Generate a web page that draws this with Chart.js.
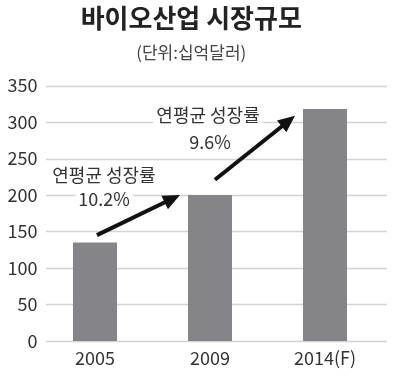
<!DOCTYPE html>
<html><head><meta charset="utf-8">
<script src="https://cdn.jsdelivr.net/npm/chart.js@4"></script>
<style>html,body{margin:0;padding:0;background:#fff}#wrap{width:400px;height:377px}</style>
</head><body><div id="wrap"><canvas id="c" width="400" height="377"></canvas></div>
<script>
const categories = ['2005', '2009', '2014(F)'];
const marketSize = [135, 200, 318];
const yTicks = [0, 50, 100, 150, 200, 250, 300, 350];
const titleText = '바이오산업 시장규모';
const subtitleText = '(단위:십억달러)';
const growthLabels = [['연평균 성장률', '10.2%'], ['연평균 성장률', '9.6%']];
// anchors in data units: [category index, value]
const labelAnchors = [[[0.078, 227], [0.078, 194]], [[0.983, 310], [1.0, 272.5]]];
const arrows = [[[0.017, 145], [0.739, 200]], [[1.043, 221], [1.739, 308.5]]];

const FONT = "'Noto Sans CJK KR', 'Noto Sans', sans-serif";

function px(chart, idx, val) {
  const xs = chart.scales.x, ys = chart.scales.y;
  const base = Math.floor(idx);
  const p0 = xs.getPixelForValue(base);
  const p1 = xs.getPixelForValue(base + 1 <= 2 ? base + 1 : base - 1);
  const step = base + 1 <= 2 ? (p1 - p0) : (p0 - p1);
  return [p0 + (idx - base) * step, ys.getPixelForValue(val)];
}

const decor = {
  id: 'decor',
  beforeDatasetsDraw(chart) {
    const ctx = chart.ctx, ys = chart.scales.y, a = chart.chartArea;
    ctx.save();
    ctx.strokeStyle = '#d3d3d3';
    ctx.lineWidth = 1.5;
    yTicks.forEach(t => {
      const y = Math.round(ys.getPixelForValue(t)) + 0.5;
      ctx.beginPath();
      ctx.moveTo(a.left + 8.5, y);
      ctx.lineTo(a.right + 4.5, y);
      ctx.stroke();
    });
    ctx.restore();
  },
  afterDatasetsDraw(chart) {
    const ctx = chart.ctx;
    ctx.save();
    ctx.font = '18px ' + FONT;
    ctx.textAlign = 'center';
    ctx.textBaseline = 'middle';
    growthLabels.forEach((lines, i) => {
      lines.forEach((txt, j) => {
        const [x, y] = px(chart, labelAnchors[i][j][0], labelAnchors[i][j][1]);
        const w = ctx.measureText(txt).width;
        ctx.fillStyle = '#fff';
        ctx.fillRect(x - w / 2 - 3, y - 11, w + 6, 22);
        ctx.fillStyle = '#333';
        ctx.fillText(txt, x, y);
      });
    });
    ctx.strokeStyle = '#111';
    ctx.fillStyle = '#111';
    ctx.lineWidth = 4;
    arrows.forEach(ar => {
      const [x0, y0] = px(chart, ar[0][0], ar[0][1]);
      const [x1, y1] = px(chart, ar[1][0], ar[1][1]);
      const ang = Math.atan2(y1 - y0, x1 - x0);
      const L = 17, H = 7.5;
      const bx = x1 - L * Math.cos(ang), by = y1 - L * Math.sin(ang);
      ctx.beginPath();
      ctx.moveTo(x0, y0);
      ctx.lineTo(bx + 2 * Math.cos(ang), by + 2 * Math.sin(ang));
      ctx.stroke();
      ctx.beginPath();
      ctx.moveTo(x1, y1);
      ctx.lineTo(bx + H * Math.sin(ang), by - H * Math.cos(ang));
      ctx.lineTo(bx - H * Math.sin(ang), by + H * Math.cos(ang));
      ctx.closePath();
      ctx.fill();
    });
    ctx.restore();
  }
};

new Chart(document.getElementById('c'), {
  type: 'bar',
  data: {
    labels: categories,
    datasets: [{
      data: marketSize,
      backgroundColor: '#858489',
      categoryPercentage: 1,
      barPercentage: 0.383
    }]
  },
  options: {
    responsive: false,
    devicePixelRatio: 1,
    animation: false,
    layout: { padding: { top: 0, bottom: 2.5, left: 0, right: 17.5 } },
    plugins: {
      legend: { display: false },
      tooltip: { enabled: false },
      title: {
        display: true, text: titleText, color: '#222',
        font: { family: FONT, size: 26, weight: 'bold', lineHeight: 1.2 },
        padding: { top: 3, bottom: 0 }
      },
      subtitle: {
        display: true, text: subtitleText, color: '#444',
        font: { family: FONT, size: 17, lineHeight: 1.2 },
        padding: { top: 8, bottom: 23 }
      }
    },
    scales: {
      x: {
        grid: { display: false, drawTicks: false },
        border: { display: false },
        ticks: { color: '#333', font: { family: FONT, size: 18 }, padding: 6 }
      },
      y: {
        min: 0, max: 350,
        afterBuildTicks: s => { s.ticks = yTicks.map(v => ({ value: v })); },
        afterFit: s => { s.width = 37.5; },
        grid: { display: false, drawTicks: false },
        border: { display: false },
        ticks: { color: '#333', font: { family: FONT, size: 18 }, padding: 0 }
      }
    }
  },
  plugins: [decor]
});
</script>
</body></html>
